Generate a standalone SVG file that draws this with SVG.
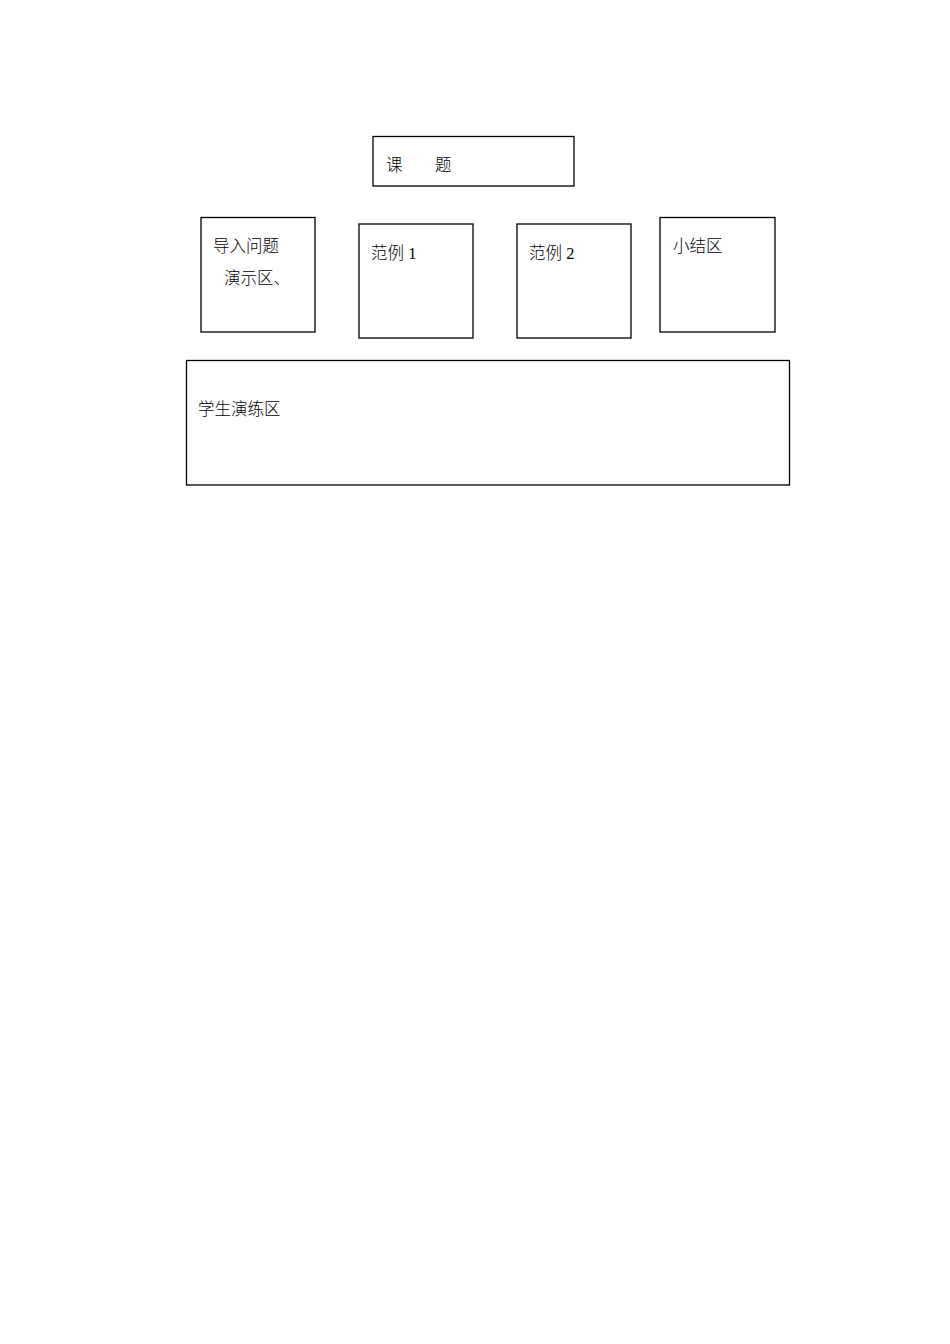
<svg xmlns="http://www.w3.org/2000/svg" width="950" height="1344" viewBox="0 0 950 1344">
<style>
rect.box{fill:#fff;stroke:#000;stroke-width:1.3}
text{font-family:"Liberation Serif","Noto Sans CJK SC",serif;font-size:16.5px;font-weight:300;fill:#000}
</style>
<rect width="950" height="1344" fill="#fff"/>
<g id="title"><rect class="box" x="373" y="136.5" width="201" height="49.5"/><text x="386" y="171">课</text><text x="435" y="171">题</text></g>
<g id="intro"><rect class="box" x="201" y="217.5" width="114" height="114.5"/><text x="213" y="252">导入问题</text><text x="224" y="284">演示区、</text></g>
<g id="ex1"><rect class="box" x="359" y="224" width="114" height="114"/><text x="371" y="259">范例 1</text></g>
<g id="ex2"><rect class="box" x="517" y="224" width="114" height="114"/><text x="529" y="259">范例 2</text></g>
<g id="summary"><rect class="box" x="660" y="217.5" width="115" height="114.5"/><text x="673" y="252">小结区</text></g>
<g id="practice"><rect class="box" x="186.5" y="360.5" width="603" height="124.5"/><text x="198" y="415">学生演练区</text></g>
<g id="connectors"></g>
</svg>
